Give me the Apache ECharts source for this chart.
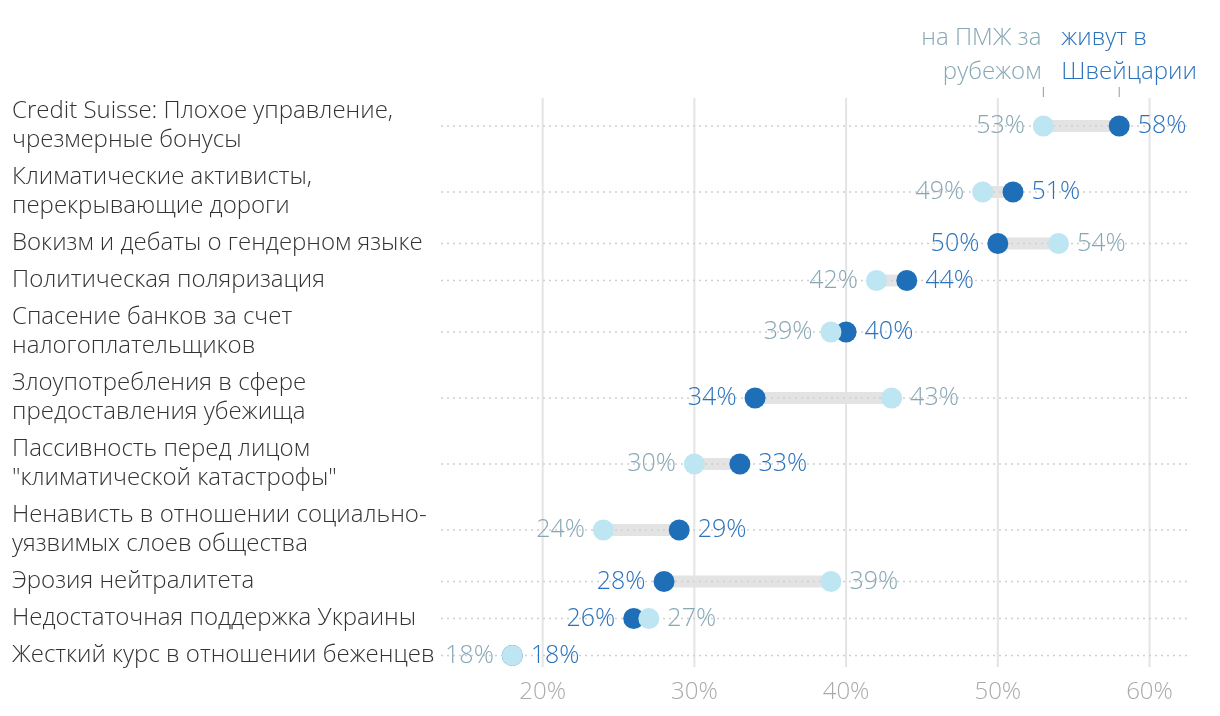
<!DOCTYPE html>
<html><head><meta charset="utf-8">
<script src="https://cdn.jsdelivr.net/npm/echarts@6/dist/echarts.min.js"></script>
<style>html,body{margin:0;padding:0;background:#fff}#c{width:1220px;height:716px}</style>
</head><body><div id="c"></div>
<script>
const categories = [
  "Credit Suisse: Плохое управление,\nчрезмерные бонусы",
  "Климатические активисты,\nперекрывающие дороги",
  "Вокизм и дебаты о гендерном языке",
  "Политическая поляризация",
  "Спасение банков за счет\nналогоплательщиков",
  "Злоупотребления в сфере\nпредоставления убежища",
  "Пассивность перед лицом\n\"климатической катастрофы\"",
  "Ненависть в отношении социально-\nуязвимых слоев общества",
  "Эрозия нейтралитета",
  "Недостаточная поддержка Украины",
  "Жесткий курс в отношении беженцев"
];
const abroad = [53, 49, 54, 42, 39, 43, 30, 24, 39, 27, 18];   // на ПМЖ за рубежом
const swiss  = [58, 51, 50, 44, 40, 34, 33, 29, 28, 26, 18];   // живут в Швейцарии
const xTicks = [20, 30, 40, 50, 60];
const headerAbroad = "на ПМЖ за\nрубежом";
const headerSwiss = "живут в\nШвейцарии";

// layout: row height depends on number of label lines
const LINE_H = 29, PAD = 8;
const centers = [];
let acc = 0;
categories.forEach(c => {
  const h = c.split("\n").length * LINE_H + PAD;
  centers.push(acc + h / 2);
  acc += h;
});
const Y_MIN = 5, Y_MAX = acc - 7;
const X_MIN = 13.3, X_MAX = 62.6;

const FONT = "'Open Sans'";
const C_DARK = "#1f6fb8", C_LIGHT = "#bde5f2";
const C_DARK_T = "#2a72bd", C_LIGHT_T = "#87a7b6";

const chart = echarts.init(document.getElementById('c'), null, {renderer: 'canvas'});

const rowData = categories.map((c, i) => [X_MIN, centers[i], i]);
const barData = categories.map((c, i) => [Math.min(abroad[i], swiss[i]), centers[i], Math.max(abroad[i], swiss[i])]);
const lightData = abroad.map((v, i) => ({
  value: [v, centers[i]],
  label: {position: v <= swiss[i] ? 'left' : 'right'}
}));
const darkData = swiss.map((v, i) => ({
  value: [v, centers[i]],
  label: {position: v < abroad[i] ? 'left' : 'right'},
  z2: v > abroad[i] ? 2 : 0
}));

const option = {
  animation: false,
  grid: {left: 441, right: 31, top: 98, bottom: 49, containLabel: false},
  xAxis: {
    type: 'value', min: X_MIN, max: X_MAX,
    axisLine: {show: false}, axisTick: {show: false}, splitLine: {show: false},
    axisLabel: {
      customValues: xTicks, formatter: '{value}%', color: '#aaaaaa',
      fontFamily: FONT, fontWeight: 300, fontSize: 24, margin: 13
    }
  },
  yAxis: {
    type: 'value', inverse: true, min: Y_MIN, max: Y_MAX, show: false
  },
  series: [
    { // vertical grid lines
      type: 'custom', z: 0, silent: true,
      data: xTicks.map(t => [t, Y_MIN]),
      encode: {x: 0, y: 1},
      renderItem: (params, api) => {
        const p0 = api.coord([api.value(0), Y_MIN]);
        const p1 = api.coord([api.value(0), Y_MAX]);
        return {type: 'line', shape: {x1: p0[0], y1: p0[1], x2: p1[0], y2: p1[1]},
          style: {stroke: '#e4e4e4', lineWidth: 2}};
      }
    },
    { // connecting bars
      type: 'custom', z: 1, silent: true,
      data: barData, encode: {x: [0, 2], y: 1},
      renderItem: (params, api) => {
        const a = api.coord([api.value(0), api.value(1)]);
        const b = api.coord([api.value(2), api.value(1)]);
        return {type: 'rect', shape: {x: a[0], y: a[1] - 6, width: b[0] - a[0], height: 12},
          style: {fill: '#e3e3e3'}};
      }
    },
    { // row dotted lines + category labels
      type: 'custom', z: 2, silent: true,
      data: rowData, encode: {x: 0, y: 1},
      renderItem: (params, api) => {
        const i = api.value(2);
        const a = api.coord([X_MIN, api.value(1)]);
        const b = api.coord([X_MAX, api.value(1)]);
        return {type: 'group', children: [
          {type: 'line', shape: {x1: a[0], y1: a[1], x2: b[0], y2: b[1]},
            style: {stroke: '#cfcfcf', lineWidth: 1.5, lineDash: [2, 4]}},
          {type: 'text', x: 12, y: a[1],
            style: {text: categories[i], fill: '#333333', font: '300 24px ' + FONT,
              lineHeight: LINE_H, verticalAlign: 'middle', align: 'left'}}
        ]};
      }
    },
    { // header
      type: 'custom', z: 2, silent: true,
      data: [[abroad[0], centers[0], swiss[0]]], encode: {x: [0, 2], y: 1},
      renderItem: (params, api) => {
        const a = api.coord([api.value(0), Y_MIN]);
        const b = api.coord([api.value(2), Y_MIN]);
        const top = a[1];
        return {type: 'group', children: [
          {type: 'text', x: a[0] - 2, y: 55,
            style: {text: headerAbroad, fill: C_LIGHT_T, font: '300 24px ' + FONT,
              lineHeight: 34, align: 'right', verticalAlign: 'middle'}},
          {type: 'text', x: a[0] + 18, y: 55,
            style: {text: headerSwiss, fill: C_DARK_T, font: '300 24px ' + FONT,
              lineHeight: 34, align: 'left', verticalAlign: 'middle'}},
          {type: 'line', shape: {x1: a[0], y1: top - 11, x2: a[0], y2: top - 1},
            style: {stroke: '#999', lineWidth: 1}},
          {type: 'line', shape: {x1: b[0], y1: top - 11, x2: b[0], y2: top - 1},
            style: {stroke: '#999', lineWidth: 1}}
        ]};
      }
    },
    {
      name: 'живут в Швейцарии', type: 'scatter', z: 3,
      symbolSize: 21, itemStyle: {color: C_DARK, opacity: 1},
      label: {show: true, distance: 8, color: C_DARK_T, fontFamily: FONT, fontWeight: 300, fontSize: 25,
        formatter: p => p.value[0] + '%'},
      data: darkData
    },
    {
      name: 'на ПМЖ за рубежом', type: 'scatter', z: 3,
      symbolSize: 21, itemStyle: {color: C_LIGHT, opacity: 1},
      label: {show: true, distance: 8, color: C_LIGHT_T, fontFamily: FONT, fontWeight: 300, fontSize: 25,
        formatter: p => p.value[0] + '%'},
      data: lightData
    }
  ]
};
chart.setOption(option);
</script>
</body></html>
